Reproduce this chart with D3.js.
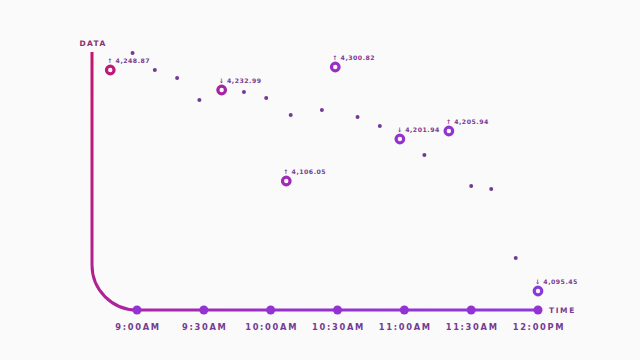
<!DOCTYPE html>
<html>
<head>
<meta charset="utf-8">
<script src="https://cdn.jsdelivr.net/npm/d3@7"></script>
<style>
  html, body { margin: 0; padding: 0; background: #fafafa; }
  svg { display: block; font-family: "DejaVu Sans", sans-serif; }
</style>
</head>
<body>
<svg id="chart" width="640" height="360"></svg>
<script>
// minutes after 9:00AM
var minutes = [-12, -2, 8, 18, 28, 38, 48, 58, 67, 69, 83, 89, 99, 109, 118, 129, 140, 150, 159, 170, 180];
var values = [4280, 4297, 4280, 4272, 4250, 4260, 4258, 4252, 4169, 4235, 4240, 4283, 4233, 4224, 4211, 4195, 4219, 4164, 4161, 4092, 4059];
// highlighted points and their labels
var highlightIdx = [0, 5, 8, 11, 14, 16, 20];
var highlightLabels = ['\u2191 4,248.87', '\u2193 4,232.99', '\u2191 4,106.05', '\u2191 4,300.82', '\u2193 4,201.94', '\u2191 4,205.94', '\u2193 4,095.45'];
var tickMinutes = [0, 30, 60, 90, 120, 150, 180];
var tickLabels = ['9:00AM', '9:30AM', '10:00AM', '10:30AM', '11:00AM', '11:30AM', '12:00PM'];

var svg = d3.select('#chart');
var x = d3.scaleLinear().domain([0, 180]).range([137, 538]);
var y = d3.scaleLinear().domain([4040, 4300]).range([310, 50]);
var radius = 45;
var axisX = x(0) - radius;
var axisY = y.range()[0];
var topY = 52;

// colour of ring points along the curve (by x)
var ringColor = d3.scaleLinear().domain([x(-12), x(40), x(90), x(180)])
    .range(['#c0187a', '#a426a4', '#9a2ec4', '#8c39dc']);

var defs = svg.append('defs');
var grad = defs.append('linearGradient').attr('id', 'axisGrad')
    .attr('gradientUnits', 'userSpaceOnUse')
    .attr('x1', axisX).attr('y1', topY).attr('x2', x(180)).attr('y2', axisY);
grad.append('stop').attr('offset', '0%').attr('stop-color', '#c2166a');
grad.append('stop').attr('offset', '35%').attr('stop-color', '#a926a6');
grad.append('stop').attr('offset', '55%').attr('stop-color', '#9a2fc8');
grad.append('stop').attr('offset', '100%').attr('stop-color', '#8d3ade');

var p = d3.path();
p.moveTo(axisX, topY);
p.lineTo(axisX, axisY - radius);
p.arcTo(axisX, axisY, axisX + radius, axisY, radius);
p.lineTo(x(180), axisY);
svg.append('path').attr('d', p.toString())
    .attr('fill', 'none').attr('stroke', 'url(#axisGrad)').attr('stroke-width', 3);

svg.append('g').selectAll('circle').data(tickMinutes).enter()
    .append('circle')
    .attr('cx', function (d) { return x(d); })
    .attr('cy', axisY)
    .attr('r', 4.5)
    .attr('fill', '#9433d4');

svg.append('g').selectAll('text').data(tickMinutes).enter()
    .append('text')
    .attr('x', function (d) { return x(d) + 1; })
    .attr('y', axisY + 20)
    .attr('text-anchor', 'middle')
    .attr('font-size', 8.3).attr('font-weight', 700)
    .attr('letter-spacing', 1.7)
    .attr('fill', '#743c92')
    .text(function (d, i) { return tickLabels[i]; });

svg.append('text').attr('x', axisX + 1).attr('y', 46)
    .attr('text-anchor', 'middle')
    .attr('font-size', 7.5).attr('font-weight', 700).attr('letter-spacing', 1.3)
    .attr('fill', '#8a2c6e').text('DATA');
svg.append('text').attr('x', x(180) + 11).attr('y', axisY + 3)
    .attr('font-size', 7.5).attr('font-weight', 700).attr('letter-spacing', 1.6)
    .attr('fill', '#7a3b93').text('TIME');

var points = minutes.map(function (m, i) { return { m: m, v: values[i], i: i }; });
var small = points.filter(function (d) { return highlightIdx.indexOf(d.i) < 0; });
var big = highlightIdx.map(function (i, k) { return { m: minutes[i], v: values[i], label: highlightLabels[k] }; });

svg.append('g').selectAll('circle').data(small).enter()
    .append('circle')
    .attr('cx', function (d) { return x(d.m); })
    .attr('cy', function (d) { return y(d.v); })
    .attr('r', 2)
    .attr('fill', '#733a94');

svg.append('g').selectAll('circle').data(big).enter()
    .append('circle')
    .attr('cx', function (d) { return x(d.m); })
    .attr('cy', function (d) { return y(d.v); })
    .attr('r', 3.8)
    .attr('fill', '#fafafa')
    .attr('stroke-width', 3.2)
    .attr('stroke', function (d) { return ringColor(x(d.m)); });

svg.append('g').selectAll('text').data(big).enter()
    .append('text')
    .attr('x', function (d) { return x(d.m) - 3; })
    .attr('y', function (d) { return y(d.v) - 7; })
    .attr('font-size', 6.2).attr('font-weight', 700).attr('letter-spacing', 0.5)
    .attr('fill', '#7a3b93')
    .text(function (d) { return d.label; });
</script>
</body>
</html>
